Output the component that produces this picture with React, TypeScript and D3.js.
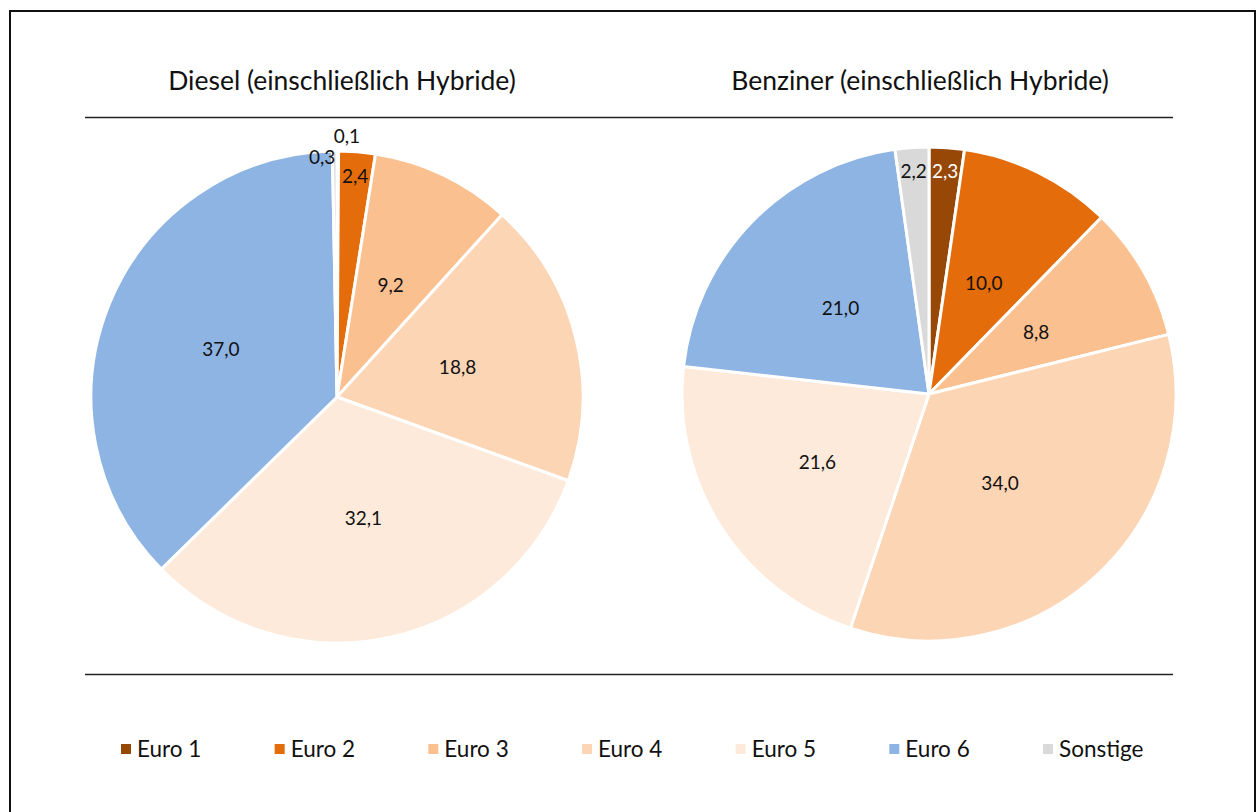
import { useEffect, useRef } from "react";
import * as d3 from "d3";

const categories = ["Euro 1", "Euro 2", "Euro 3", "Euro 4", "Euro 5", "Euro 6", "Sonstige"];
const colors = ["#974706", "#E46C0A", "#FAC090", "#FCD5B5", "#FDEADA", "#8EB4E3", "#D9D9D9"];

const dieselTitle = "Diesel (einschließlich Hybride)";
const dieselValues = [0.1, 2.4, 9.2, 18.8, 32.1, 37.0, 0.3];

const benzinTitle = "Benziner (einschließlich Hybride)";
const benzinValues = [2.3, 10.0, 8.8, 34.0, 21.6, 21.0, 2.2];

// label placement per slice: radius factor and angle nudge (degrees)
const dieselLabelPos = [
  { r: 1.06, da: 2 },
  { r: 0.9, da: 0 },
  { r: 0.505, da: 0 },
  { r: 0.505, da: 0 },
  { r: 0.505, da: 0 },
  { r: 0.51, da: 0 },
  { r: 0.975, da: -3 },
];
const benzinLabelPos = [
  { r: 0.905, da: 0 },
  { r: 0.5, da: 0 },
  { r: 0.5, da: 0 },
  { r: 0.46, da: 4 },
  { r: 0.53, da: 1 },
  { r: 0.5, da: 0 },
  { r: 0.905, da: 0 },
];

const fmt = (v: number) => v.toFixed(1).replace(".", ",");

export default function App() {
  const ref = useRef<SVGSVGElement | null>(null);

  useEffect(() => {
    if (!ref.current) return;
    const width = 1258;
    const height = 812;
    const font = "Lato, 'Open Sans', sans-serif";

    const svg = d3.select(ref.current).attr("width", width).attr("height", height);
    svg.selectAll("*").remove();

    svg.append("rect")
      .attr("x", 10).attr("y", 11)
      .attr("width", 1245).attr("height", 830)
      .attr("fill", "none")
      .attr("stroke", "#111")
      .attr("stroke-width", 2);

    // separator lines
    [117, 674].forEach((y) => {
      svg.append("line")
        .attr("x1", 85).attr("x2", 1173)
        .attr("y1", y + 0.5).attr("y2", y + 0.5)
        .attr("stroke", "#222")
        .attr("stroke-width", 1.3);
    });

    const pie = d3.pie<number>().sort(null).value((d) => d);

    const drawPie = (
      title: string,
      values: number[],
      cx: number,
      cy: number,
      R: number,
      titleX: number,
      labelPos: { r: number; da: number }[]
    ) => {
      svg.append("text")
        .attr("x", titleX).attr("y", 90)
        .attr("text-anchor", "middle")
        .attr("font-family", font)
        .attr("font-size", 26.5)
        .attr("fill", "#111")
        .text(title);

      const g = svg.append("g").attr("transform", `translate(${cx},${cy})`);
      const arcs = pie(values);
      const arc = d3.arc<d3.PieArcDatum<number>>().innerRadius(0).outerRadius(R);

      g.selectAll("path.slice")
        .data(arcs)
        .enter()
        .append("path")
        .attr("class", "slice")
        .attr("d", arc)
        .attr("fill", (_, i) => colors[i])
        .attr("stroke", "#fff")
        .attr("stroke-width", 3)
        .attr("stroke-linejoin", "round");

      g.selectAll("text.lbl")
        .data(arcs)
        .enter()
        .append("text")
        .attr("class", "lbl")
        .attr("transform", (d, i) => {
          const p = labelPos[i];
          const a = (d.startAngle + d.endAngle) / 2 + (p.da * Math.PI) / 180;
          const r = R * p.r;
          return `translate(${r * Math.sin(a)},${-r * Math.cos(a)})`;
        })
        .attr("text-anchor", "middle")
        .attr("dy", "0.36em")
        .attr("font-family", font)
        .attr("font-size", 19)
        .attr("fill", (_, i) => (i === 0 && values[i] > 1 ? "#fff" : "#111"))
        .text((d) => fmt(d.data));
    };

    drawPie(dieselTitle, dieselValues, 337, 397, 246, 342, dieselLabelPos);
    drawPie(benzinTitle, benzinValues, 929, 394, 247, 920, benzinLabelPos);

    // legend
    const legendX = d3.scalePoint<string>().domain(categories).range([121, 1043]);
    const lg = svg.append("g");
    categories.forEach((c, i) => {
      const x = legendX(c) ?? 0;
      lg.append("rect")
        .attr("x", x).attr("y", 744)
        .attr("width", 10).attr("height", 10)
        .attr("fill", colors[i]);
      lg.append("text")
        .attr("x", x + 16).attr("y", 757)
        .attr("font-family", font)
        .attr("font-size", 22.5)
        .attr("fill", "#111")
        .text(c);
    });
  }, []);

  return <svg ref={ref} style={{ position: "absolute", left: 0, top: 0, display: "block" }} />;
}
